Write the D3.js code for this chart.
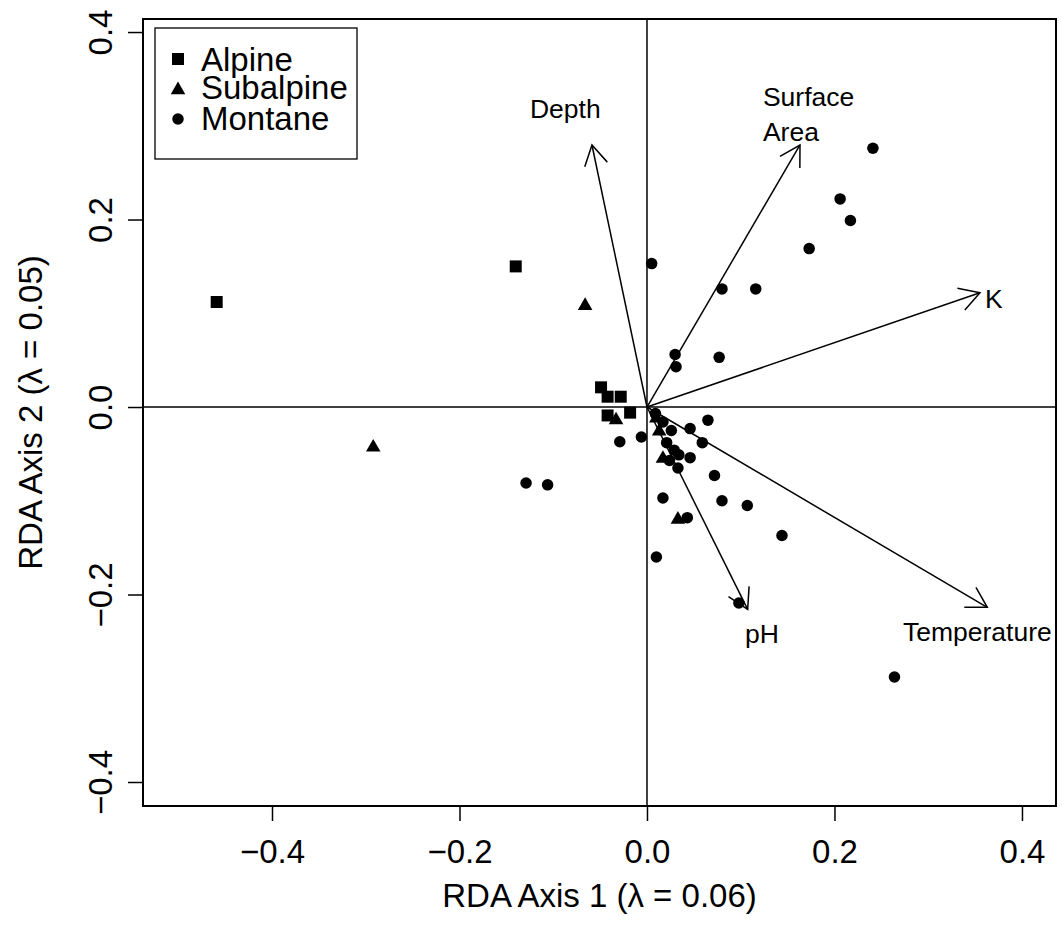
<!DOCTYPE html>
<html>
<head>
<meta charset="utf-8">
<script src="https://cdn.jsdelivr.net/npm/d3@7"></script>
<style>
  body { margin: 0; background: #fff; }
  svg text { font-family: "Liberation Sans", Arial, Helvetica, sans-serif; fill: #000; }
</style>
</head>
<body>
<svg id="chart"></svg>
<script>
// legend groups
const groups = ['Alpine', 'Subalpine', 'Montane'];

// site scores, [RDA1, RDA2]
const alpineSites = [
  [-0.459, 0.112], [-0.140, 0.150], [-0.049, 0.021], [-0.042, 0.011],
  [-0.028, 0.011], [-0.042, -0.009], [-0.018, -0.006]
];
const subalpineSites = [
  [-0.066, 0.108], [-0.292, -0.043], [-0.033, -0.014], [0.010, -0.012],
  [0.013, -0.026], [0.017, -0.055], [0.033, -0.120]
];
const montaneSites = [
  [0.241, 0.276], [0.206, 0.222], [0.217, 0.199], [0.173, 0.169],
  [0.005, 0.153], [0.080, 0.126], [0.116, 0.126], [0.030, 0.056],
  [0.031, 0.043], [0.077, 0.053], [0.009, -0.007], [0.017, -0.016],
  [0.026, -0.025], [0.046, -0.023], [0.065, -0.014], [-0.006, -0.032],
  [0.021, -0.038], [0.059, -0.038], [0.029, -0.046], [0.034, -0.051],
  [0.046, -0.054], [0.024, -0.057], [0.033, -0.065], [0.072, -0.073],
  [0.017, -0.097], [0.080, -0.100], [0.107, -0.105], [0.043, -0.118],
  [0.144, -0.137], [0.010, -0.160], [0.098, -0.209], [0.264, -0.288],
  [-0.129, -0.081], [-0.106, -0.083], [-0.029, -0.037]
];

// environmental vectors
const envVars = ['Depth', 'Surface Area', 'K', 'pH', 'Temperature'];
const envRDA1 = [-0.0587, 0.1632, 0.3552, 0.1074, 0.3630];
const envRDA2 = [0.2795, 0.2795, 0.1219, -0.2158, -0.2137];
// label spots (plot units, left edge / baseline)
const envLabelX = [-0.1248, 0.1237, 0.3605, 0.1045, 0.2731];
const envLabelY = [0.3083, 0.3216, 0.1059, -0.2517, -0.2493];

const xTicks = [-0.4, -0.2, 0.0, 0.2, 0.4];
const yTicks = [-0.4, -0.2, 0.0, 0.2, 0.4];

class Biplot {

  constructor(_config) {
    this.config = {
      parentElement: _config.parentElement,
      containerWidth: _config.containerWidth || 1062,
      containerHeight: _config.containerHeight || 928,
      margin: _config.margin || {top: 19, right: 6, bottom: 122, left: 143}
    };
    this.initVis();
  }

  /**
   * Set up svg, scales and axes
   */
  initVis() {
    let vis = this;

    vis.width = vis.config.containerWidth - vis.config.margin.left - vis.config.margin.right;
    vis.height = vis.config.containerHeight - vis.config.margin.top - vis.config.margin.bottom;

    // same units on both axes (asp = 1)
    vis.xScale = d3.scaleLinear()
      .domain([-0.5376, 0.4363])
      .range([0, vis.width]);

    vis.yScale = d3.scaleLinear()
      .domain([-0.4256, 0.4139])
      .range([vis.height, 0]);

    vis.xAxis = d3.axisBottom(vis.xScale)
      .tickValues(xTicks)
      .tickSize(15)
      .tickPadding(19)
      .tickFormat(d3.format('.1f'));

    vis.yAxis = d3.axisLeft(vis.yScale)
      .tickValues(yTicks)
      .tickSize(15)
      .tickFormat(d3.format('.1f'));

    vis.svg = d3.select(vis.config.parentElement)
      .attr('width', vis.config.containerWidth)
      .attr('height', vis.config.containerHeight);

    vis.chart = vis.svg.append('g')
      .attr('transform', `translate(${vis.config.margin.left},${vis.config.margin.top})`);

    vis.chart.append('clipPath')
      .attr('id', 'plot-clip')
      .append('rect')
      .attr('width', vis.width)
      .attr('height', vis.height);

    vis.xAxisG = vis.chart.append('g')
      .attr('class', 'axis x-axis')
      .attr('transform', `translate(0,${vis.height})`);

    vis.yAxisG = vis.chart.append('g')
      .attr('class', 'axis y-axis');

    vis.plotG = vis.chart.append('g')
      .attr('clip-path', 'url(#plot-clip)');

    // axis titles
    vis.svg.append('text')
      .attr('x', vis.config.margin.left + vis.width / 2)
      .attr('y', 907)
      .attr('text-anchor', 'middle')
      .style('font-size', '33px')
      .text('RDA Axis 1 (\u03bb = 0.06)');

    vis.svg.append('text')
      .attr('transform', `translate(42,${vis.config.margin.top + vis.height / 2}) rotate(-90)`)
      .attr('text-anchor', 'middle')
      .style('font-size', '33px')
      .text('RDA Axis 2 (\u03bb = 0.05)');
  }

  renderVis() {
    let vis = this;
    const x = vis.xScale, y = vis.yScale;

    // axes
    vis.xAxisG.call(vis.xAxis);
    vis.yAxisG.call(vis.yAxis);
    vis.chart.selectAll('.axis .domain').remove();
    vis.chart.selectAll('.axis line').attr('stroke', '#000').attr('stroke-width', 1.5);
    vis.chart.selectAll('.axis text').style('font-size', '33px').attr('fill', '#000');
    vis.yAxisG.selectAll('text')
      .attr('transform', 'rotate(-90)')
      .attr('x', 0)
      .attr('y', -31)
      .attr('dy', 0)
      .attr('text-anchor', 'middle');

    // reference lines through origin
    vis.plotG.append('line')
      .attr('x1', 0).attr('x2', vis.width)
      .attr('y1', y(0)).attr('y2', y(0))
      .attr('stroke', '#000').attr('stroke-width', 1.5);
    vis.plotG.append('line')
      .attr('x1', x(0)).attr('x2', x(0))
      .attr('y1', 0).attr('y2', vis.height)
      .attr('stroke', '#000').attr('stroke-width', 1.5);

    // sites
    const shapes = {
      Alpine: d3.symbol(d3.symbolSquare, 144)(),
      Subalpine: d3.symbol(d3.symbolTriangle, 92)(),
      Montane: d3.symbol(d3.symbolCircle, 104)()
    };
    const sites = [
      ...alpineSites.map(d => ({group: 'Alpine', p: d})),
      ...subalpineSites.map(d => ({group: 'Subalpine', p: d})),
      ...montaneSites.map(d => ({group: 'Montane', p: d}))
    ];
    vis.plotG.selectAll('.site')
      .data(sites)
      .join('path')
      .attr('class', 'site')
      .attr('d', d => shapes[d.group])
      .attr('transform', d => `translate(${x(d.p[0])},${y(d.p[1])})`)
      .attr('fill', '#000');

    // environmental arrows
    const env = envVars.map((name, i) => ({
      name, vx: envRDA1[i], vy: envRDA2[i], lx: envLabelX[i], ly: envLabelY[i]
    }));
    const arrowG = vis.plotG.selectAll('.env')
      .data(env)
      .join('g')
      .attr('class', 'env');

    arrowG.append('line')
      .attr('x1', x(0)).attr('y1', y(0))
      .attr('x2', d => x(d.vx)).attr('y2', d => y(d.vy))
      .attr('stroke', '#000').attr('stroke-width', 1.5);

    // open arrow head, 30 degree barbs
    const headLen = 23;
    arrowG.append('path')
      .attr('d', d => {
        const tx = x(d.vx), ty = y(d.vy);
        const a = Math.atan2(ty - y(0), tx - x(0));
        const p = d3.path();
        p.moveTo(tx - headLen * Math.cos(a - Math.PI / 6), ty - headLen * Math.sin(a - Math.PI / 6));
        p.lineTo(tx, ty);
        p.lineTo(tx - headLen * Math.cos(a + Math.PI / 6), ty - headLen * Math.sin(a + Math.PI / 6));
        return p.toString();
      })
      .attr('fill', 'none')
      .attr('stroke', '#000').attr('stroke-width', 1.5);

    arrowG.append('text')
      .attr('x', d => x(d.lx))
      .attr('y', d => y(d.ly))
      .style('font-size', '26.5px')
      .selectAll('tspan')
      .data(d => d.name.split(' ').map((w, j) => ({w, j, lx: d.lx})))
      .join('tspan')
      .attr('x', d => x(d.lx))
      .attr('dy', d => d.j === 0 ? 0 : 35)
      .text(d => d.w);

    // plot box
    vis.chart.append('rect')
      .attr('width', vis.width)
      .attr('height', vis.height)
      .attr('fill', 'none')
      .attr('stroke', '#000')
      .attr('stroke-width', 2);

    // legend, top left
    const legend = vis.chart.append('g')
      .attr('transform', 'translate(12,9)');
    legend.append('rect')
      .attr('width', 202)
      .attr('height', 131)
      .attr('fill', '#fff')
      .attr('stroke', '#000')
      .attr('stroke-width', 1.3);
    const legendY = [31, 62, 91];
    const legendText = [43, 71, 102];
    const shapesLegend = {
      Alpine: d3.symbol(d3.symbolSquare, 144)(),
      Subalpine: d3.symbol(d3.symbolTriangle, 92)(),
      Montane: d3.symbol(d3.symbolCircle, 104)()
    };
    groups.forEach((g, i) => {
      legend.append('path')
        .attr('d', shapesLegend[g])
        .attr('transform', `translate(23,${legendY[i]})`)
        .attr('fill', '#000');
      legend.append('text')
        .attr('x', 46)
        .attr('y', legendText[i])
        .style('font-size', '33px')
        .text(g);
    });
  }
}

const plot = new Biplot({parentElement: '#chart'});
plot.renderVis();
</script>
</body>
</html>
